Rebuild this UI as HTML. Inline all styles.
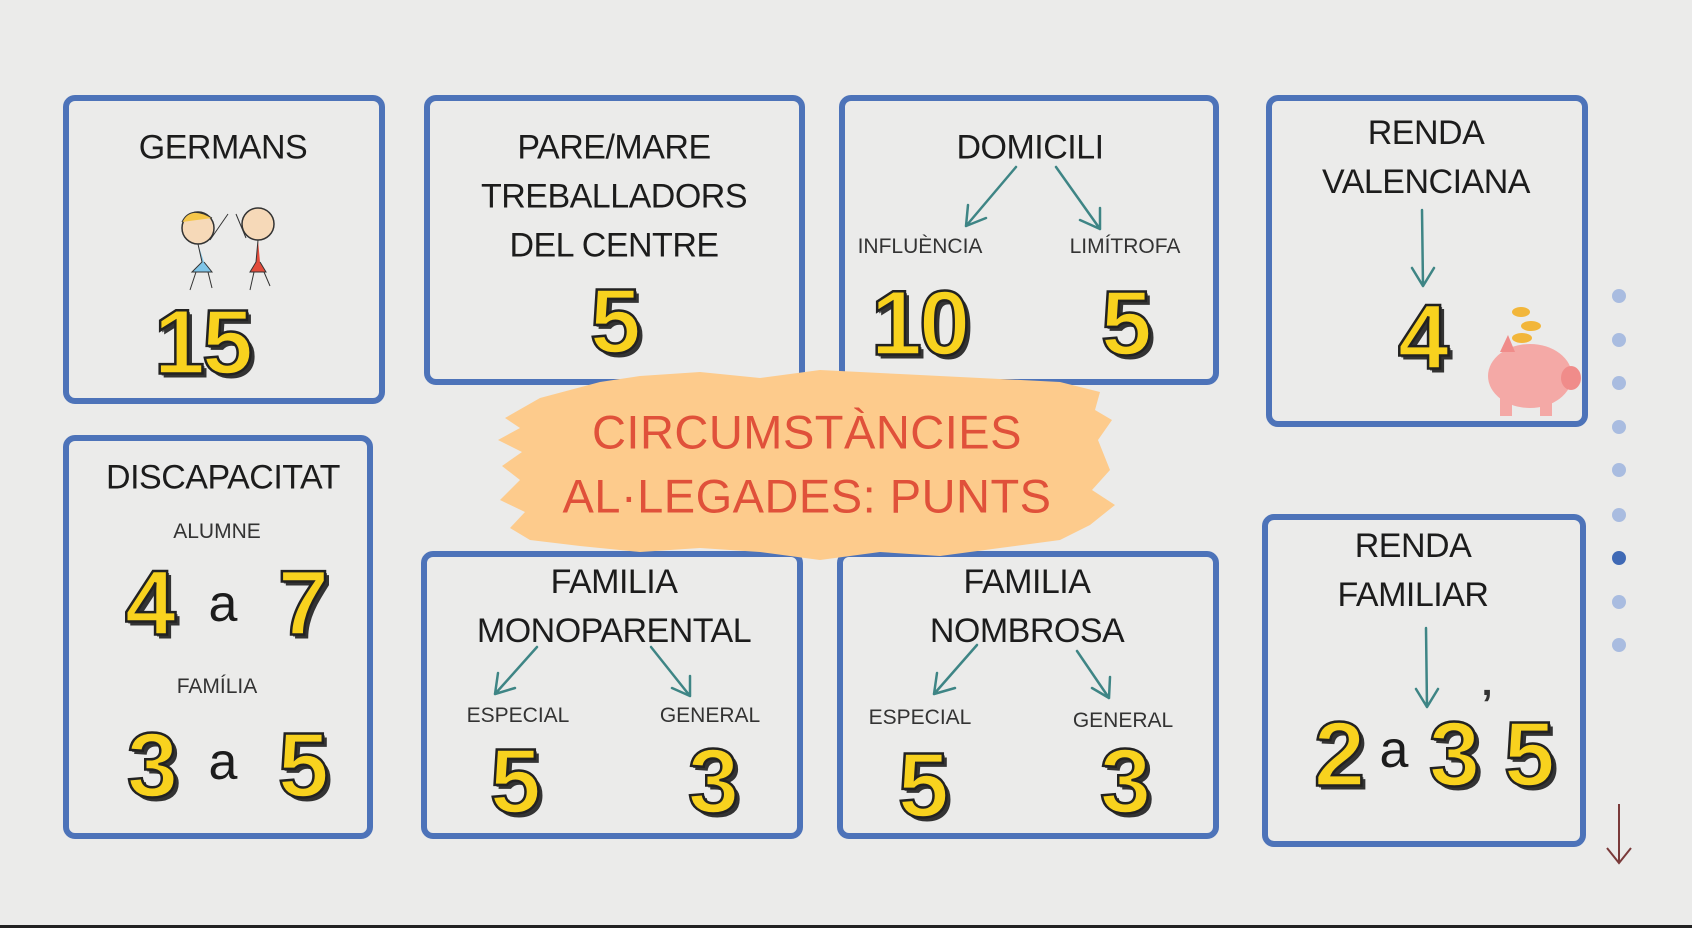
<!DOCTYPE html>
<html><head><meta charset="utf-8"><style>
html,body{margin:0;padding:0}
body{width:1692px;height:928px;background:#ebebea;position:relative;overflow:hidden;font-family:"Liberation Sans",sans-serif}
.box{position:absolute;border:6px solid #4d73b9;border-radius:12px;box-sizing:border-box}
.c{position:absolute;transform:translate(-50%,-50%);white-space:nowrap;color:#1c1c1c;text-align:center}
.t{font-size:34px;line-height:49px;letter-spacing:-0.5px}
.s{font-size:21px;color:#333}
.n{font-size:92px;font-weight:bold;color:#f8d21e;-webkit-text-stroke:2.5px #222;text-shadow:4px 4px 0 #333,2px 2px 0 #555;font-family:"Liberation Sans",sans-serif;letter-spacing:-3px}
.a{font-size:52px;color:#1c1c1c}
.dot{position:absolute;width:14px;height:14px;border-radius:50%;background:#a9bce0;transform:translate(-50%,-50%)}
</style></head><body>
<div class="box" style="left:63px;top:95px;width:322px;height:309px"></div>
<div class="box" style="left:424px;top:95px;width:381px;height:290px"></div>
<div class="box" style="left:839px;top:95px;width:380px;height:290px"></div>
<div class="box" style="left:1266px;top:95px;width:322px;height:332px"></div>
<div class="box" style="left:63px;top:435px;width:310px;height:404px"></div>
<div class="box" style="left:421px;top:551px;width:382px;height:288px"></div>
<div class="box" style="left:837px;top:551px;width:382px;height:288px"></div>
<div class="box" style="left:1262px;top:514px;width:324px;height:333px"></div>

<svg style="position:absolute;left:0;top:0" width="1692" height="928">
<g stroke="#3e8585" stroke-width="2.5" fill="none" stroke-linecap="round">
<path d="M1016 167 L966 226 M966 226 L968 205 M966 226 L986 218"/>
<path d="M1056 167 L1100 229 M1100 229 L1080 220 M1100 229 L1100 208"/>
<path d="M1422 210 L1423 286 M1423 286 L1412 268 M1423 286 L1434 268"/>
<path d="M537 647 L495 694 M495 694 L498 673 M495 694 L515 688"/>
<path d="M651 647 L690 696 M690 696 L672 688 M690 696 L690 676"/>
<path d="M977 645 L934 694 M934 694 L937 673 M934 694 L955 688"/>
<path d="M1077 651 L1109 698 M1109 698 L1092 688 M1109 698 L1110 677"/>
<path d="M1426 628 L1427 707 M1427 707 L1416 689 M1427 707 L1438 689"/>
</g>
<g stroke="#7a3a3a" stroke-width="2" fill="none"><path d="M1619 804 L1619 863 M1607 848 L1619 863 L1631 848"/></g>
<g>
<circle cx="198" cy="228" r="16" fill="#f6d9b8" stroke="#333" stroke-width="1.5"/>
<path d="M182 222 Q190 205 212 218" fill="#f5c64a" stroke="#333"/>
<circle cx="258" cy="224" r="16" fill="#f6d9b8" stroke="#333" stroke-width="1.5"/>
<path d="M198 244 L202 262 L192 272 L212 272 L204 262" fill="#7fc5e8" stroke="#333"/>
<path d="M258 240 L256 262 L250 272 L266 272 L260 262" fill="#e24b3b" stroke="#333"/>
<path d="M196 272 L190 290 M208 272 L212 288 M254 272 L250 290 M264 272 L270 286 M210 240 L228 214 M246 238 L236 214" stroke="#333" fill="none"/>
</g>
<g>
<ellipse cx="1530" cy="376" rx="42" ry="32" fill="#f4a9a6"/>
<ellipse cx="1571" cy="378" rx="10" ry="12" fill="#f08c8a"/>
<rect x="1500" y="396" width="12" height="20" fill="#f4a9a6"/><rect x="1540" y="396" width="12" height="20" fill="#f4a9a6"/>
<path d="M1500 352 L1508 335 L1515 352Z" fill="#f08c8a"/>
<ellipse cx="1521" cy="312" rx="9" ry="5" fill="#f2b63a"/><ellipse cx="1531" cy="326" rx="10" ry="5" fill="#f2b63a"/><ellipse cx="1522" cy="338" rx="10" ry="5" fill="#f2b63a"/>
</g>
<path d="M505 418 L540 398 L600 382 L640 376 L700 372 L760 378 L820 370 L900 374 L980 378 L1060 382 L1100 392 L1095 410 L1112 420 L1098 440 L1110 470 L1092 490 L1115 505 L1090 525 L1060 540 L1000 548 L940 556 L880 552 L820 560 L760 552 L700 548 L640 552 L580 546 L530 540 L510 528 L525 512 L500 500 L520 480 L502 466 L522 452 L498 440 L520 428Z" fill="#fdcb8c"/>
</svg>

<div class="c" style="left:807px;top:432px;font-size:47px;color:#e0513a;letter-spacing:0.5px">CIRCUMSTÀNCIES</div>
<div class="c" style="left:807px;top:496px;font-size:47px;color:#e0513a;letter-spacing:0.5px">AL·LEGADES: PUNTS</div>

<div class="c t" style="left:223px;top:148px">GERMANS</div>
<div class="c n" style="left:202px;top:343px">15</div>

<div class="c t" style="left:614px;top:197px">PARE/MARE<br>TREBALLADORS<br>DEL CENTRE</div>
<div class="c n" style="left:614px;top:322px">5</div>

<div class="c t" style="left:1030px;top:148px">DOMICILI</div>
<div class="c s" style="left:920px;top:247px">INFLUÈNCIA</div>
<div class="c s" style="left:1125px;top:247px">LIMÍTROFA</div>
<div class="c n" style="left:919px;top:324px">10</div>
<div class="c n" style="left:1125px;top:324px">5</div>

<div class="c t" style="left:1426px;top:158px">RENDA<br>VALENCIANA</div>
<div class="c n" style="left:1422px;top:338px">4</div>

<div class="c t" style="left:223px;top:478px">DISCAPACITAT</div>
<div class="c s" style="left:217px;top:532px">ALUMNE</div>
<div class="c n" style="left:149px;top:604px">4</div>
<div class="c a" style="left:223px;top:604px">a</div>
<div class="c n" style="left:302px;top:604px">7</div>
<div class="c s" style="left:217px;top:687px">FAMÍLIA</div>
<div class="c n" style="left:151px;top:766px">3</div>
<div class="c a" style="left:223px;top:762px">a</div>
<div class="c n" style="left:302px;top:766px">5</div>

<div class="c t" style="left:614px;top:607px">FAMILIA<br>MONOPARENTAL</div>
<div class="c s" style="left:518px;top:716px">ESPECIAL</div>
<div class="c s" style="left:710px;top:716px">GENERAL</div>
<div class="c n" style="left:514px;top:782px">5</div>
<div class="c n" style="left:712px;top:782px">3</div>

<div class="c t" style="left:1027px;top:607px">FAMILIA<br>NOMBROSA</div>
<div class="c s" style="left:920px;top:718px">ESPECIAL</div>
<div class="c s" style="left:1123px;top:721px">GENERAL</div>
<div class="c n" style="left:922px;top:786px">5</div>
<div class="c n" style="left:1124px;top:782px">3</div>

<div class="c t" style="left:1413px;top:571px">RENDA<br>FAMILIAR</div>
<div class="c n" style="left:1338px;top:755px">2</div>
<div class="c a" style="left:1394px;top:750px">a</div>
<div class="c n" style="left:1453px;top:755px">3</div>
<div class="c" style="left:1487px;top:705px;font-size:40px;font-weight:bold;color:#333">’</div>
<div class="c n" style="left:1528px;top:755px">5</div>

<div class="dot" style="left:1619px;top:296px"></div>
<div class="dot" style="left:1619px;top:340px"></div>
<div class="dot" style="left:1619px;top:383px"></div>
<div class="dot" style="left:1619px;top:427px"></div>
<div class="dot" style="left:1619px;top:470px"></div>
<div class="dot" style="left:1619px;top:515px"></div>
<div class="dot" style="left:1619px;top:558px;background:#3f69b5"></div>
<div class="dot" style="left:1619px;top:602px"></div>
<div class="dot" style="left:1619px;top:645px"></div>
<div style="position:absolute;left:0;top:925px;width:1692px;height:3px;background:#222"></div>
</body></html>
